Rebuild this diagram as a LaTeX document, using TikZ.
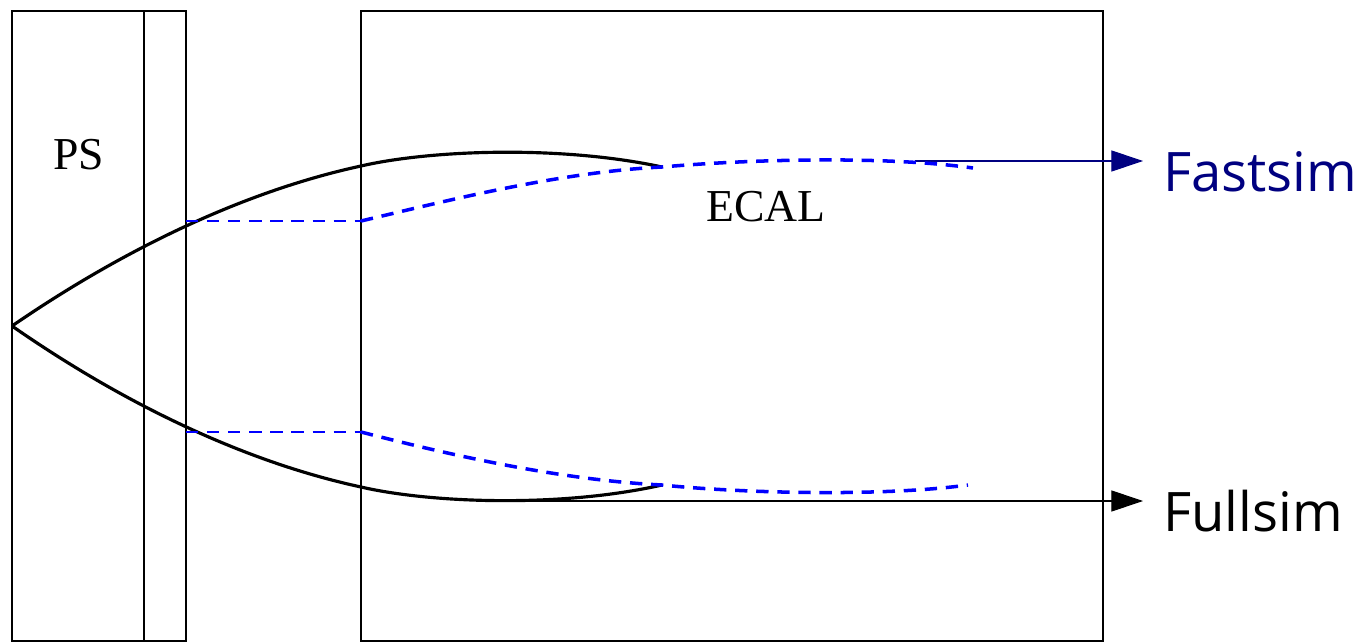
\documentclass[tikz,border=0pt]{standalone}
\usepackage{fontspec}
\setmainfont{Liberation Serif}
\newfontfamily\simfont{Open Sans}
\usetikzlibrary{arrows.meta}
\definecolor{simnavy}{RGB}{0,0,128}
\definecolor{simblue}{RGB}{0,0,255}

\begin{document}
\begin{tikzpicture}[x=0.02cm,y=-0.02cm,
	wall/.style={line width=1.1pt},
	track/.style={line width=1.8pt},
	fasttrack/.style={simblue,line width=2pt,dash pattern=on 7pt off 5pt},
	simarrow/.style={line width=0.6pt,-{Triangle[length=18pt,width=12pt]}},
	simlabel/.style={font=\simfont\fontsize{31}{36}\selectfont,anchor=base west,inner sep=0pt}]
	\useasboundingbox (0,0) rectangle (1363,642);
	
	% detector boxes
	\draw[wall] (12,11) rectangle (186,641);
	\draw[wall] (144,11) -- (144,641);
	\draw[wall] (361,11) rectangle (1103,641);
	
	\node (ps) at (79,155) {\fontsize{26}{30}\selectfont PS};
	\node (ecal) at (766,207) {\fontsize{26}{30}\selectfont ECAL};
	
	\coordinate (vtx) at (12,326);
	\coordinate (upin) at (186,221);
	\coordinate (upecal) at (361,221);
	\coordinate (upend) at (662,167);
	\coordinate (lowin) at (186,432);
	\coordinate (lowecal) at (361,432);
	\coordinate (lowend) at (662,485);
	
	% outputs
	\node[simlabel,simnavy] (fast) at (1163,192) {Fastsim};
	\node[simlabel] (full) at (1163,531) {Fullsim};
	\coordinate (fastfrom) at (915,161);
	\coordinate (fullfrom) at (495,501);
	\coordinate (fasttip) at (1143,161);
	\coordinate (fulltip) at (1143,501);
	\draw[simarrow,simnavy] (fastfrom) -- (fasttip);
	\draw[simarrow] (fullfrom) -- (fulltip);
	
	% full simulation tracks
	\draw[track] (vtx) .. controls (130,245) and (250,190) .. (361,166)
		.. controls (430,150) and (560,145) .. (upend);
	\draw[track] (vtx) .. controls (130,408) and (250,463) .. (361,487)
		.. controls (430,503) and (560,508) .. (lowend);
	
	% fast simulation tracks
	\draw[fasttrack,line width=1.5pt] (upin) -- (upecal);
	\draw[fasttrack] (upecal) .. controls (450,200) and (560,172) .. (upend)
		.. controls (740,160) and (880,155) .. (973,168);
	\draw[fasttrack,line width=1.5pt] (lowin) -- (lowecal);
	\draw[fasttrack] (lowecal) .. controls (450,455) and (560,480) .. (lowend)
		.. controls (740,493) and (880,497) .. (968,485);
\end{tikzpicture}
\end{document}
